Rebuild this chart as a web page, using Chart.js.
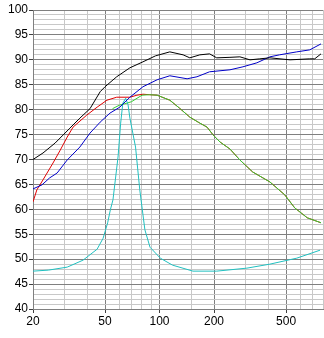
<!DOCTYPE html>
<html>
<head>
<meta charset="UTF-8">
<title>Response</title>
<style>
  body { margin: 0; background: #fff; }
  #chart { display: block; }
</style>
</head>
<body>
<canvas id="chart" width="324" height="338"></canvas>
<script src="https://cdn.jsdelivr.net/npm/chart.js"></script>
<script>
// values (Hz, dB)
var blackFreq = [20, 22.7, 26.5, 29.3, 32, 36.3, 41.3, 47, 50, 58, 68.6, 81, 95, 114, 135, 147, 167, 189, 207, 245, 278, 316, 358, 407, 526, 676, 720, 780];
var blackDb   = [70.0, 71.3, 73.3, 74.9, 76.3, 78.3, 80.2, 83.6, 84.6, 86.6, 88.4, 89.6, 90.8, 91.6, 91.0, 90.4, 91.0, 91.2, 90.4, 90.5, 90.6, 90.0, 90.2, 90.4, 90.0, 90.2, 90.2, 91.2];

var blueFreq = [20, 22.4, 24.7, 27.2, 30.9, 36.3, 41.3, 47, 53.2, 60.3, 68.6, 81, 97, 114, 142, 161, 189, 245, 289, 345, 407, 460, 573, 676, 780];
var blueDb   = [64.1, 64.9, 66.3, 67.3, 69.9, 72.5, 75.3, 77.5, 79.3, 80.5, 82.5, 84.6, 86.0, 86.8, 86.2, 86.6, 87.6, 88.0, 88.6, 89.4, 90.6, 91.0, 91.6, 92.0, 93.2];

var redFreq = [20, 21, 22.7, 25.8, 28.3, 30.9, 33.3, 39.6, 45.2, 51.2, 58, 68.6, 75, 81, 88, 97, 114, 129, 147, 167, 183, 198, 216, 245, 278, 327, 407, 492, 558, 655, 780];
var redDb   = [61.5, 63.9, 65.9, 69.3, 71.9, 74.5, 76.5, 78.9, 80.5, 81.9, 82.5, 82.5, 82.9, 83.1, 83.0, 82.9, 81.9, 80.3, 78.5, 77.3, 76.5, 74.9, 73.5, 72.1, 69.9, 67.5, 65.5, 62.9, 60.3, 58.3, 57.3];

var greenFreq = [55, 60, 66, 70, 80, 88, 97, 114, 129, 147, 167, 183, 198, 216, 245, 278, 327, 407, 492, 558, 655, 780];
var greenDb   = [80.2, 80.9, 81.3, 81.6, 82.9, 83.0, 82.9, 81.9, 80.3, 78.5, 77.3, 76.5, 74.9, 73.5, 72.1, 69.9, 67.5, 65.5, 62.9, 60.3, 58.3, 57.3];

var cyanFreq = [20, 24.3, 30.9, 37.8, 45.2, 48.8, 51.7, 53.5, 55.3, 59, 61, 62.7, 65, 67, 68.6, 73.7, 77.8, 83, 88.6, 101, 118, 153, 207, 304, 407, 573, 770];
var cyanDb   = [47.6, 47.8, 48.4, 49.8, 52.0, 54.2, 57.3, 59.9, 61.9, 70.5, 77.3, 81.3, 82.3, 81.0, 78.3, 72.5, 63.9, 55.9, 52.4, 50.2, 48.8, 47.6, 47.6, 48.2, 49.0, 50.2, 51.8];

var xGrid = [20, 30, 40, 50, 60, 70, 80, 90, 100, 150, 200, 300, 400, 500, 600, 700, 800];
var xLabels = [20, 50, 100, 200, 500];
var xMajor = [50, 100, 200, 500];

function pts(f, d) {
    return f.map(function (v, i) { return { x: v, y: d[i] }; });
}

function line(label, f, d, color) {
    return {
        label: label,
        data: pts(f, d),
        borderColor: color,
        borderWidth: 1,
        pointRadius: 0,
        tension: 0,
        fill: false
    };
}

var ctx = document.getElementById("chart").getContext("2d");
new Chart(ctx, {
    type: "line",
    data: {
        datasets: [
            line("black", blackFreq, blackDb, "#000000"),
            line("blue", blueFreq, blueDb, "#0000c8"),
            line("cyan", cyanFreq, cyanDb, "#20c0c0"),
            line("green", greenFreq, greenDb, "#33cc33"),
            line("red", redFreq, redDb, "#e00000")
        ]
    },
    options: {
        responsive: false,
        animation: false,
        layout: { padding: { top: 10, right: 1, left: 0, bottom: 0 } },
        plugins: { legend: { display: false }, tooltip: { enabled: false } },
        scales: {
            x: {
                type: "logarithmic",
                min: 20,
                max: 800,
                afterBuildTicks: function (scale) {
                    scale.ticks = xGrid.map(function (v) { return { value: v }; });
                },
                afterFit: function (scale) { scale.height = 29; },
                border: { color: "#808080" },
                grid: {
                    color: function (c) {
                        return xMajor.indexOf(c.tick.value) >= 0 ? "#808080" : "#c8c8c8";
                    },
                    tickColor: function (c) {
                        return xLabels.indexOf(c.tick.value) >= 0 ? "#404040" : "rgba(0,0,0,0)";
                    },
                    tickLength: 4
                },
                ticks: {
                    autoSkip: false,
                    maxRotation: 0,
                    padding: 1,
                    color: "#000",
                    font: { family: "Liberation Sans", size: 12 },
                    callback: function (v) { return xLabels.indexOf(v) >= 0 ? String(v) : ""; }
                }
            },
            y: {
                min: 40,
                max: 100,
                afterFit: function (scale) { scale.width = 33; },
                border: { color: "#808080" },
                grid: {
                    color: function (c) {
                        return c.tick.value % 5 === 0 ? "#808080" : "#c8c8c8";
                    },
                    tickColor: function (c) {
                        return c.tick.value % 5 === 0 ? "#404040" : "rgba(0,0,0,0)";
                    },
                    tickLength: 4
                },
                ticks: {
                    stepSize: 1,
                    autoSkip: false,
                    padding: 1,
                    color: "#000",
                    font: { family: "Liberation Sans", size: 12 },
                    callback: function (v) { return v % 5 === 0 ? String(v) : ""; }
                }
            }
        }
    }
});
</script>
</body>
</html>
